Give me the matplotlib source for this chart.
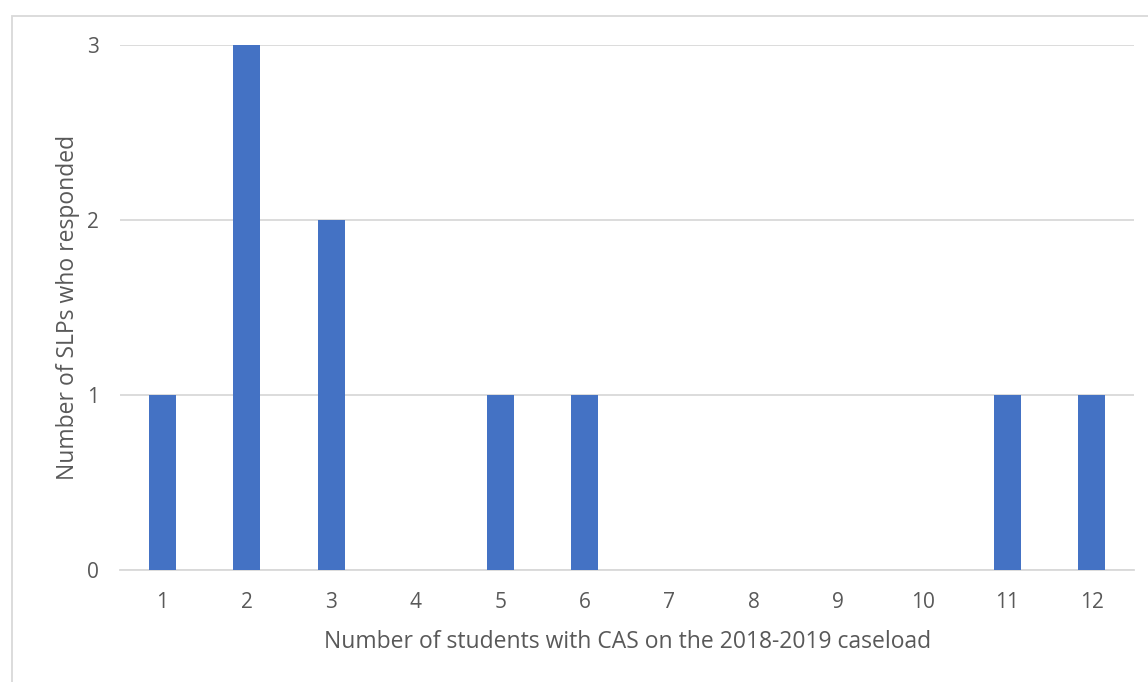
import numpy as np
import matplotlib.pyplot as plt
from matplotlib.patches import Rectangle

plt.rcParams['font.family'] = ['Open Sans', 'DejaVu Sans']

students = ['1', '2', '3', '4', '5', '6', '7', '8', '9', '10', '11', '12']
slps = [1, 3, 2, 0, 1, 1, 0, 0, 0, 0, 1, 1]

text_color = '#595959'
grid_color = '#D9D9D9'

fig = plt.figure(figsize=(11.48, 6.82), dpi=100)
ax = fig.add_axes([0.1045, 0.1642, 0.8835, 0.7698])

x = np.arange(len(students))
ax.bar(x, slps, width=0.32, color='#4472C4', zorder=3)

ax.set_xlim(-0.5, len(students) - 0.5)
ax.set_ylim(0, 3)
ax.set_yticks([0, 1, 2, 3])
ax.set_xticks(x)
ax.set_xticklabels(students)
ax.yaxis.grid(True, color=grid_color, linewidth=1.3, zorder=0)

for side in ['top', 'right', 'left']:
    ax.spines[side].set_visible(False)
ax.spines['bottom'].set_color(grid_color)
ax.spines['bottom'].set_linewidth(1.3)
ax.tick_params(axis='both', length=0, labelsize=15, colors=text_color)
ax.tick_params(axis='x', pad=16)
ax.tick_params(axis='y', pad=15)

ax.set_xlabel('Number of students with CAS on the 2018-2019 caseload',
              fontsize=16.5, color=text_color, labelpad=12)
ax.set_ylabel('Number of SLPs who responded', fontsize=16.5,
              color=text_color, labelpad=5)

# light frame around the chart area
fig.add_artist(Rectangle((12 / 1148, -0.1), 1.2, 1.1 - 16 / 682,
                         transform=fig.transFigure, fill=False,
                         edgecolor=grid_color, linewidth=1.3))

fig.savefig('out.png', dpi=100)
